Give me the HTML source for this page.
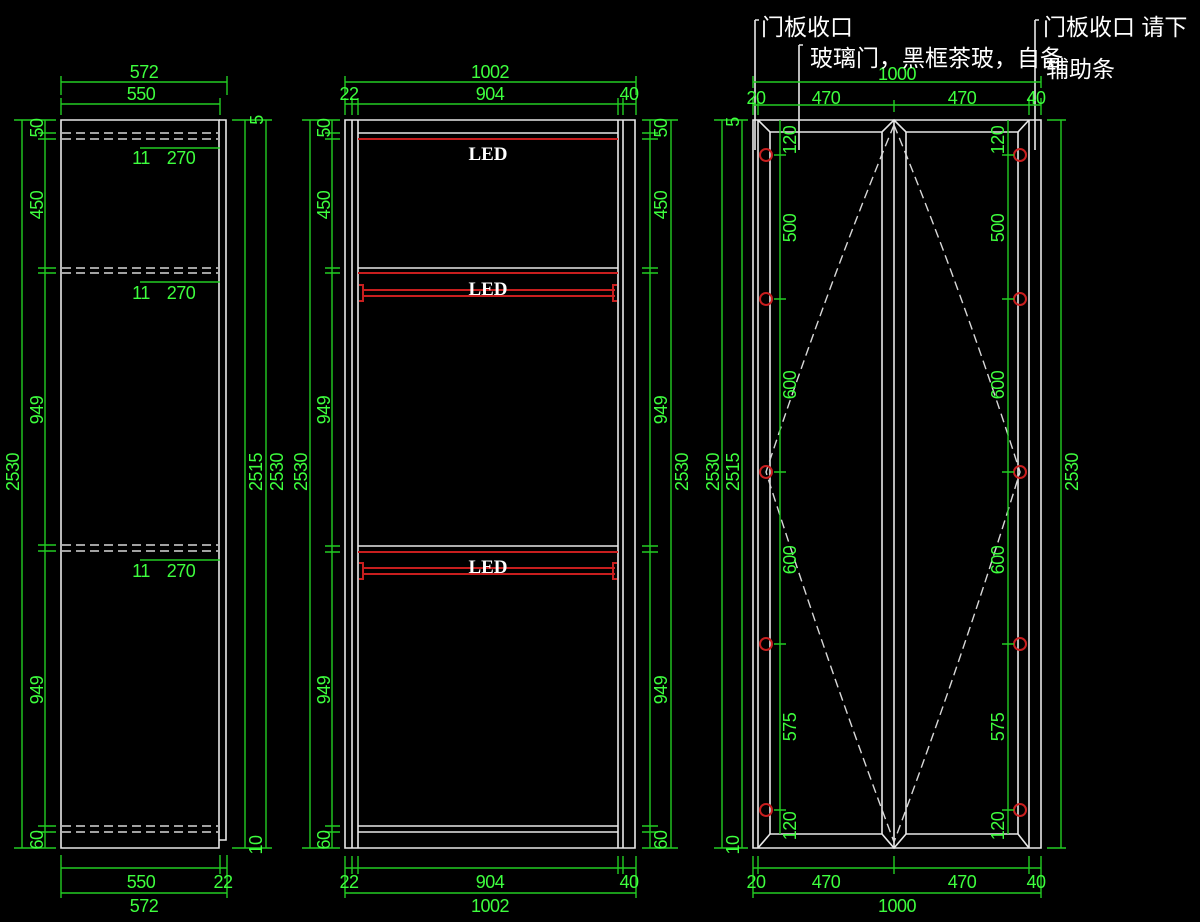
<!DOCTYPE html>
<html><head><meta charset="utf-8"><style>
html,body{margin:0;padding:0;background:#000;width:1200px;height:922px;overflow:hidden}
svg{display:block}
.w{stroke:#e8e8e8;stroke-width:1.6;fill:none}
.g{stroke:#22cc22;stroke-width:1.4;fill:none}
.r{stroke:#c81e1e;stroke-width:2;fill:none}
.d{stroke:#d8d8d8;stroke-width:1.4;fill:none;stroke-dasharray:9 5}
.t{fill:#3eff3e;font-family:"Liberation Sans Narrow","Liberation Sans",sans-serif;font-size:18px;text-anchor:middle;letter-spacing:-0.5px}
.c{fill:#fff;font-family:"Liberation Sans","Noto Sans CJK SC",sans-serif;font-size:23px}
.led{fill:#fff;font-family:"Liberation Serif",serif;font-size:19px;font-weight:bold;text-anchor:middle}
</style></head><body>
<svg width="1200" height="922" viewBox="0 0 1200 922" xmlns="http://www.w3.org/2000/svg">
<!-- ============ LEFT VIEW ============ -->
<g class="w">
<path d="M61 120H219V848H61Z"/>
<path d="M219 120H226V840H219"/>
</g>
<g class="d">
<path d="M62 133H218M62 139H218M62 268H218M62 273H218M62 545H218M62 551H218M62 826H218M62 832H218"/>
</g>
<g class="g">
<path d="M61 82H227M61 76V95M227 76V95"/>
<path d="M61 104H220M61 98V115M220 98V115"/>
<path d="M22 120V848M14 120H56M14 848H56"/>
<path d="M45 120V848M38 133H56M38 139H56M38 268H56M38 273H56M38 545H56M38 551H56M38 826H56M38 832H56"/>
<path d="M245 120V848M266 120V848M232 120H272M232 848H272"/>
<path d="M140 148H220M140 282H220M140 560H220"/>
<path d="M61 868H227M61 893H227M61 855V898M220 855V874M227 855V898"/>
</g>
<g class="t">
<text x="144" y="78">572</text><text x="141" y="100">550</text>
<text x="141" y="164">11</text><text x="181" y="164">270</text>
<text x="141" y="299">11</text><text x="181" y="299">270</text>
<text x="141" y="577">11</text><text x="181" y="577">270</text>
<text x="141" y="888">550</text><text x="223" y="888">22</text>
<text x="144" y="912">572</text>
<text transform="translate(19,472) rotate(-90)">2530</text>
<text transform="translate(43,128) rotate(-90)">50</text>
<text transform="translate(43,205) rotate(-90)">450</text>
<text transform="translate(43,410) rotate(-90)">949</text>
<text transform="translate(43,690) rotate(-90)">949</text>
<text transform="translate(43,840) rotate(-90)">60</text>
<text transform="translate(262,472) rotate(-90)">2515</text>
<text transform="translate(283,472) rotate(-90)">2530</text>
<text transform="translate(263,120) rotate(-90)">5</text>
<text transform="translate(262,845) rotate(-90)">10</text>
</g>
<!-- ============ MIDDLE VIEW ============ -->
<g class="w">
<path d="M345 120H635V848H345Z"/>
<path d="M352 120V848M358 120V848M618 120V848M623 120V848"/>
<path d="M358 133H618M358 268H618M358 546H618M358 826H618M358 832H618"/>
</g>
<g class="r">
<path d="M358 139H618M358 273H618M358 552H618"/>
<path d="M363 290H615M363 296H615M363 568H615M363 574H615"/>
<path d="M359 285h4v16h-4M617 285h-4v16h4M359 563h4v16h-4M617 563h-4v16h4"/>
</g>
<g class="g">
<path d="M345 82H636M345 76V95M636 76V95"/>
<path d="M345 104H636M345 98V115M352 98V115M358 98V115M618 98V115M623 98V115M636 98V115"/>
<path d="M310 120V848M302 120H340M302 848H340"/>
<path d="M332 120V848M325 133H340M325 139H340M325 268H340M325 273H340M325 546H340M325 552H340M325 826H340M325 832H340"/>
<path d="M650 120V848M642 133H658M642 139H658M642 268H658M642 273H658M642 546H658M642 552H658M642 826H658M642 832H658"/>
<path d="M671 120V848M642 120H678M642 848H678"/>
<path d="M345 868H636M345 893H636M345 856V898M352 856V874M358 856V874M618 856V874M623 856V874M636 856V898"/>
</g>
<g class="t">
<text x="490" y="78">1002</text><text x="490" y="100">904</text>
<text x="349" y="100">22</text><text x="629" y="100">40</text>
<text x="490" y="888">904</text><text x="349" y="888">22</text><text x="629" y="888">40</text>
<text x="490" y="912">1002</text>
<text transform="translate(307,472) rotate(-90)">2530</text>
<text transform="translate(330,128) rotate(-90)">50</text>
<text transform="translate(330,205) rotate(-90)">450</text>
<text transform="translate(330,410) rotate(-90)">949</text>
<text transform="translate(330,690) rotate(-90)">949</text>
<text transform="translate(330,840) rotate(-90)">60</text>
<text transform="translate(667,128) rotate(-90)">50</text>
<text transform="translate(667,205) rotate(-90)">450</text>
<text transform="translate(667,410) rotate(-90)">949</text>
<text transform="translate(667,690) rotate(-90)">949</text>
<text transform="translate(667,840) rotate(-90)">60</text>
<text transform="translate(688,472) rotate(-90)">2530</text>
</g>
<g class="led"><text x="488" y="160">LED</text><text x="488" y="295">LED</text><text x="488" y="573">LED</text></g>
<!-- ============ RIGHT VIEW ============ -->
<g class="w">
<path d="M753 120H1041V848H753Z"/>
<path d="M758 120V848M1029 120V848"/>
<path d="M758 120L770 132H882L894 120L906 132H1018L1029 120"/>
<path d="M758 848L770 834H882L894 848L906 834H1018L1029 848"/>
<path d="M770 132V834M882 132V834M894 120V848M906 132V834M1018 132V834"/>
<path d="M755 20V150M799 45V150M1035 20V150"/>
<path d="M755 20h4M799 45h4M1035 20h4"/>
</g>
<g class="d">
<path d="M894 125Q826 290 766 472Q826 660 894 842M894 125Q962 290 1020 472Q962 660 894 842"/>
</g>
<g class="r">
<circle cx="766" cy="155" r="6"/><circle cx="766" cy="299" r="6"/><circle cx="766" cy="472" r="6"/><circle cx="766" cy="644" r="6"/><circle cx="766" cy="810" r="6"/>
<circle cx="1020" cy="155" r="6"/><circle cx="1020" cy="299" r="6"/><circle cx="1020" cy="472" r="6"/><circle cx="1020" cy="644" r="6"/><circle cx="1020" cy="810" r="6"/>
</g>
<g class="g">
<path d="M753 82H1041M753 76V88M1041 76V88"/>
<path d="M753 105H1041M753 98V115M758 98V115M894 100V112M1029 98V115M1041 98V115"/>
<path d="M722 120V848M714 120H748M714 848H748"/>
<path d="M742 120V848"/>
<path d="M780 120V834M774 155H786M774 299H786M774 472H786M774 644H786M774 810H786"/>
<path d="M1008 120V834M1002 155H1014M1002 299H1014M1002 472H1014M1002 644H1014M1002 810H1014"/>
<path d="M1061 120V848M1047 120H1066M1047 848H1066"/>
<path d="M753 868H1041M753 893H1041M753 856V898M758 856V874M894 856V874M1029 856V874M1041 856V898"/>
</g>
<g class="t">
<text x="897" y="80">1000</text>
<text x="756" y="104">20</text><text x="826" y="104">470</text><text x="962" y="104">470</text><text x="1036" y="104">40</text>
<text x="756" y="888">20</text><text x="826" y="888">470</text><text x="962" y="888">470</text><text x="1036" y="888">40</text>
<text x="897" y="912">1000</text>
<text transform="translate(719,472) rotate(-90)">2530</text>
<text transform="translate(739,472) rotate(-90)">2515</text>
<text transform="translate(739,122) rotate(-90)">5</text>
<text transform="translate(739,845) rotate(-90)">10</text>
<text transform="translate(796,140) rotate(-90)">120</text>
<text transform="translate(796,228) rotate(-90)">500</text>
<text transform="translate(796,385) rotate(-90)">600</text>
<text transform="translate(796,560) rotate(-90)">600</text>
<text transform="translate(796,727) rotate(-90)">575</text>
<text transform="translate(796,826) rotate(-90)">120</text>
<text transform="translate(1004,140) rotate(-90)">120</text>
<text transform="translate(1004,228) rotate(-90)">500</text>
<text transform="translate(1004,385) rotate(-90)">600</text>
<text transform="translate(1004,560) rotate(-90)">600</text>
<text transform="translate(1004,727) rotate(-90)">575</text>
<text transform="translate(1004,826) rotate(-90)">120</text>
<text transform="translate(1078,472) rotate(-90)">2530</text>
</g>
<g class="c">
<text x="761" y="35">门板收口</text>
<text x="810" y="66">玻璃门，黑框茶玻，自备</text>
<text x="1043" y="35">门板收口 请下</text>
<text x="1046" y="77">辅助条</text>
</g>
</svg>
</body></html>
